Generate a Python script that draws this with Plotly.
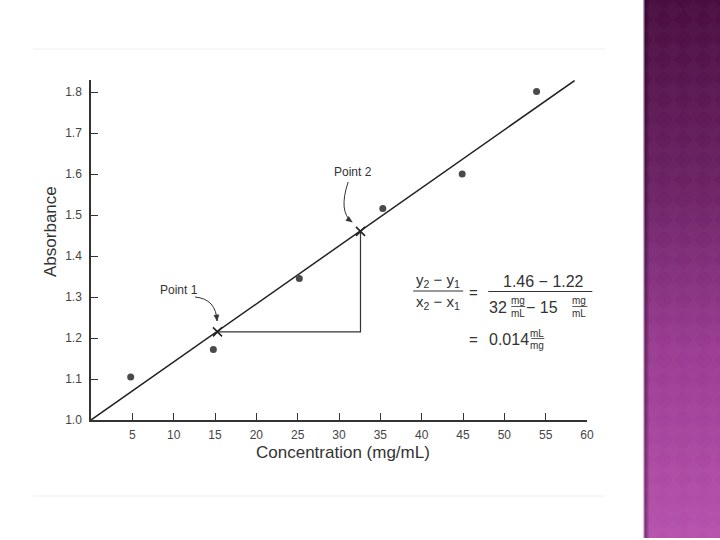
import base64
import math
import plotly.graph_objects as go

# ---- data ----
conc = [4.8, 14.8, 25.2, 35.3, 44.9, 53.9]
absorb = [1.105, 1.172, 1.345, 1.516, 1.600, 1.801]
fit_x = [0, 58.5]
fit_y = [1.0, 1.828]
pt_x = [15.3, 32.6]
pt_y = [1.215, 1.46]
pt_labels = ["Point 1", "Point 2"]
x_ticks = [5, 10, 15, 20, 25, 30, 35, 40, 45, 50, 55, 60]
y_ticks = [1.0, 1.1, 1.2, 1.3, 1.4, 1.5, 1.6, 1.7, 1.8]

# ---- pixel layout helpers ----
L, R, T, B = 91, 586.7, 80, 420
YMAX = 1.0 + (B - T) / 410.0
FONT = "Liberation Sans, Arial, sans-serif"
INK = "#333333"


def pp(px, py):
    return (px - L) / (R - L), (B - py) / (B - T)


fig = go.Figure()

fig.add_trace(go.Scatter(x=fit_x, y=fit_y, mode="lines",
                         line=dict(color="#222222", width=1.5), hoverinfo="skip"))
fig.add_trace(go.Scatter(x=[pt_x[0], pt_x[1], pt_x[1]], y=[pt_y[0], pt_y[0], pt_y[1]],
                         mode="lines", line=dict(color="#333333", width=1.2), hoverinfo="skip"))
fig.add_trace(go.Scatter(x=conc, y=absorb, mode="markers",
                         marker=dict(color="#4a4a4a", size=7)))
fig.add_trace(go.Scatter(x=pt_x, y=pt_y, mode="markers",
                         marker=dict(symbol="x-thin", size=9, line=dict(color="#222222", width=1.6))))

ann = []


def txt(s, px, py, size=13, **kw):
    x, y = pp(px, py)
    d = dict(text=s, x=x, y=y, xref="paper", yref="paper", showarrow=False,
             xanchor="center", yanchor="middle", font=dict(family=FONT, size=size, color=INK))
    d.update(kw)
    ann.append(d)


shapes = []


def hline(x0, x1, py, w=1.2):
    a = pp(x0, py)
    b = pp(x1, py)
    shapes.append(dict(type="line", xref="paper", yref="paper", x0=a[0], y0=a[1], x1=b[0], y1=b[1],
                       line=dict(color=INK, width=w)))


# axis titles
txt("Concentration (mg/mL)", 343, 452, size=17)
txt("Absorbance", 50, 231, size=17, textangle=-90)

# point labels
txt(pt_labels[0], 179, 290, size=12)
txt(pt_labels[1], 353, 172, size=12)

# curved arrows with filled heads
for (sx, sy, cx, cy, ex, ey, dx, dy) in [(195, 297, 216, 299, 217, 321, 1, 9),
                                         (348, 182, 338, 212, 352, 222, 7, 5)]:
    s = pp(sx, sy); c = pp(cx, cy); e = pp(ex, ey)
    shapes.append(dict(type="path", xref="paper", yref="paper",
                       path=f"M {s[0]},{s[1]} Q {c[0]},{c[1]} {e[0]},{e[1]}",
                       line=dict(color=INK, width=1)))
    n = math.hypot(dx, dy)
    ux, uy = dx / n, dy / n
    bx, by = ex - 6 * ux, ey - 6 * uy
    p1 = pp(bx - 2.5 * uy, by + 2.5 * ux)
    p2 = pp(bx + 2.5 * uy, by - 2.5 * ux)
    shapes.append(dict(type="path", xref="paper", yref="paper",
                       path=f"M {e[0]},{e[1]} L {p1[0]},{p1[1]} L {p2[0]},{p2[1]} Z",
                       fillcolor=INK, line=dict(color=INK, width=0.5)))

# equation
txt("y<sub>2</sub> − y<sub>1</sub>", 438, 280, size=15)
hline(413, 463, 291)
txt("x<sub>2</sub> − x<sub>1</sub>", 438, 302, size=15)
txt("=", 473, 292, size=15)
txt("1.46 − 1.22", 543, 281, size=16)
hline(488, 592, 291.5)
txt("32", 498, 307, size=16)
txt("mg", 518, 300, size=10)
hline(511, 525, 306.5, 0.8)
txt("mL", 518, 313, size=10)
txt("− 15", 542, 307, size=16)
txt("mg", 579, 300, size=10)
hline(572, 587, 306.5, 0.8)
txt("mL", 579, 313, size=10)
txt("=", 473, 339, size=15)
txt("0.014", 509, 339, size=16)
txt("mL", 537, 333, size=10)
hline(531, 544, 338.5, 0.8)
txt("mg", 537, 345, size=10)

# faint frame lines of the scan
for py in (49, 496):
    a = pp(33, py); b = pp(605, py)
    shapes.append(dict(type="line", xref="paper", yref="paper", x0=a[0], y0=a[1], x1=b[0], y1=b[1],
                       line=dict(color="#eeeeee", width=1), layer="below"))

# purple decorative strip
svg = """<svg xmlns='http://www.w3.org/2000/svg' width='77' height='538'>
<defs>
<linearGradient id='g' x1='0' y1='0' x2='0' y2='1'>
<stop offset='0' stop-color='#4a0d40'/><stop offset='0.35' stop-color='#6c2365'/>
<stop offset='0.65' stop-color='#9a3c92'/><stop offset='1' stop-color='#b652ad'/>
</linearGradient>
<pattern id='p' width='20' height='20' patternUnits='userSpaceOnUse'>
<path d='M10 0 L20 10 L10 20 L0 10 Z' fill='#ffffff' fill-opacity='0.018'/>
</pattern>
<linearGradient id='s' x1='0' y1='0' x2='1' y2='0'>
<stop offset='0' stop-color='#000' stop-opacity='0.45'/><stop offset='1' stop-color='#000' stop-opacity='0'/>
</linearGradient>
</defs>
<rect width='77' height='538' fill='url(#g)'/>
<rect width='77' height='538' fill='url(#p)'/>
<rect x='1' width='5' height='538' fill='url(#s)'/>
<rect width='1' height='538' fill='#e8b8e0'/>
</svg>"""
src = "data:image/svg+xml;base64," + base64.b64encode(svg.encode()).decode()
ix, iy = pp(643, 0)
fig.add_layout_image(dict(source=src, xref="paper", yref="paper", x=ix, y=iy,
                          sizex=77 / (R - L), sizey=538 / (B - T), xanchor="left", yanchor="top",
                          sizing="stretch", layer="below"))

axis_common = dict(showline=True, linecolor=INK, linewidth=1.5, ticks="inside", ticklen=7,
                   tickwidth=1.3, tickcolor=INK, showgrid=False, zeroline=False,
                   tickfont=dict(family=FONT, size=12, color="#444444"))
fig.update_xaxes(range=[0, 60], tickvals=x_ticks, ticklabelstandoff=3, **axis_common)
fig.update_yaxes(range=[1.0, YMAX], tickvals=y_ticks, tickformat=".1f", ticklabelstandoff=5,
                 **axis_common)

fig.update_layout(width=720, height=540, margin=dict(l=L, r=720 - R, t=T, b=540 - B),
                  paper_bgcolor="white", plot_bgcolor="white", showlegend=False,
                  annotations=ann, shapes=shapes)

fig.write_html("out.html", config={"displayModeBar": False},
               post_script="document.body.style.margin='0';")
